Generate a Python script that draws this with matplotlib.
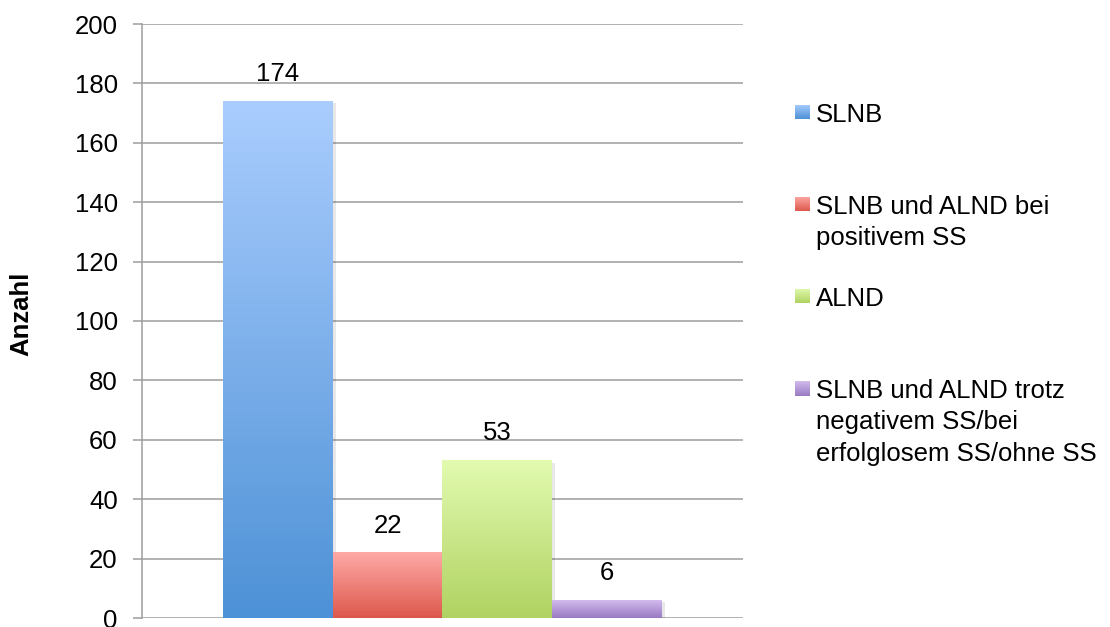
import numpy as np
import matplotlib
matplotlib.use("Agg")
import matplotlib.pyplot as plt
import matplotlib.patheffects as pe
from matplotlib.colors import to_rgb

# --- data ---
categories = [
    "SLNB",
    "SLNB und ALND bei\npositivem SS",
    "ALND",
    "SLNB und ALND trotz\nnegativem SS/bei\nerfolglosem SS/ohne SS",
]
values = [174, 22, 53, 6]
yticks = [0, 20, 40, 60, 80, 100, 120, 140, 160, 180, 200]
y_label = "Anzahl"

# gradient colours per bar: (top, bottom)
top_colors = ["#AACDFE", "#FFAAA7", "#E2FBB0", "#D2BBEE"]
bottom_colors = ["#4D91D6", "#DD584C", "#B0D262", "#997AC2"]

W, H = 1110, 627
plt.rcParams["font.family"] = ["Liberation Sans", "DejaVu Sans"]


def vertical_gradient(c_top, c_bot, n=256):
    t = np.linspace(0, 1, n)[:, None]
    grad = (1 - t) * np.array(to_rgb(c_bot)) + t * np.array(to_rgb(c_top))
    return grad[:, None, :]


fig = plt.figure(figsize=(W / 100, H / 100), dpi=100)
ax = fig.add_axes([142 / W, (H - 618) / H, 601 / W, 594 / H])

grid_col = "#9c9c9c"

# --- bars with vertical gradient ---
x = np.arange(len(values))
bars = ax.bar(x, values, width=1.0, facecolor="white", edgecolor="none", zorder=2)
for b, c_top, c_bot in zip(bars, top_colors, bottom_colors):
    b.set_path_effects([pe.SimplePatchShadow(offset=(2, -1.5), shadow_rgbFace="#000000", alpha=0.09)])
    x0, y0 = b.get_x(), b.get_y()
    ax.imshow(vertical_gradient(c_top, c_bot),
              extent=[x0, x0 + b.get_width(), y0, y0 + b.get_height()],
              origin="lower", aspect="auto", interpolation="bilinear", zorder=3)

for xi, v in zip(x, values):
    ax.annotate(str(v), xy=(xi, v), xytext=(0, 14.5), textcoords="offset points",
                ha="center", va="baseline", fontsize=18.5, color="black", zorder=4)

# --- axes styling ---
ax.set_xlim(-1.238, 4.238)
ax.set_ylim(0, 200)
ax.set_yticks(yticks)
ax.set_xticks([])
ax.yaxis.grid(True, color=grid_col, linewidth=1.1, zorder=0)
ax.set_axisbelow(True)
for s in ["top", "right", "bottom"]:
    ax.spines[s].set_visible(False)
ax.spines["left"].set_color(grid_col)
ax.spines["left"].set_linewidth(1.1)
ax.tick_params(axis="y", length=6.5, width=1.1, color=grid_col, pad=11, labelsize=18.5)
for lab in ax.get_yticklabels():
    lab.set_clip_on(False)

fig.text(21 / W, 1 - 314 / H, y_label, rotation=90, ha="center", va="center",
         fontsize=18.5, fontweight="bold")

# --- legend (drawn by hand to match spacing) ---
first_baseline = 121.5
step = 92.0
line_step = 31.7
sq = 15
for i, (lab, c_top, c_bot) in enumerate(zip(categories, top_colors, bottom_colors)):
    base = first_baseline + i * step
    # small gradient swatch
    sw = fig.add_axes([795 / W, 1 - (base - 2) / H, sq / W, sq / H])
    sw.imshow(vertical_gradient(c_top, c_bot), origin="lower", aspect="auto",
              extent=[0, 1, 0, 1], interpolation="bilinear")
    sw.set_axis_off()
    for k, line in enumerate(lab.split("\n")):
        fig.text(816 / W, 1 - (base + k * line_step) / H, line, ha="left",
                 va="baseline", fontsize=18.5)

fig.savefig("out.png", dpi=100)
